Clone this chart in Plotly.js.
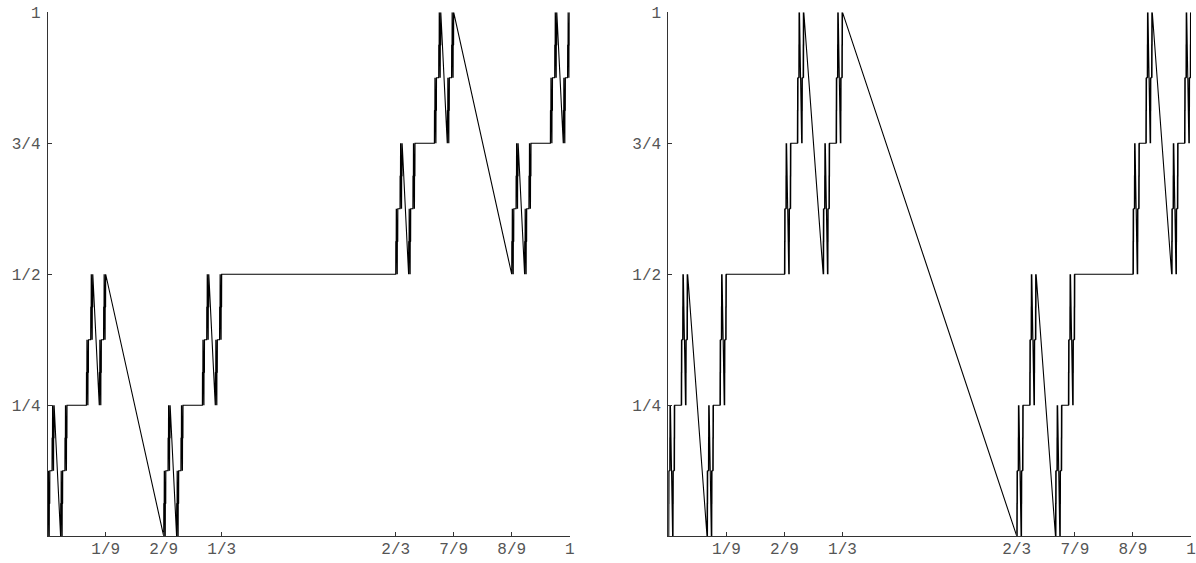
<!DOCTYPE html>
<html>
<head>
<meta charset="utf-8">
<script src="https://cdn.plot.ly/plotly-3.0.1.min.js"></script>
<style>
html,body{margin:0;padding:0;background:#fff;}
#chart{width:1196px;height:563px;}
</style>
</head>
<body>
<div id="chart"></div>
<script>
// Tick positions and labels (shared by both panels)
const xTickVals = [1/9, 2/9, 1/3, 2/3, 7/9, 8/9, 1];
const xTickLabels = ["1/9", "2/9", "1/3", "2/3", "7/9", "8/9", "1"];
const yTickVals = [0.25, 0.5, 0.75, 1];
const yTickLabels = ["1/4", "1/2", "3/4", "1"];

// Curve definition:
// "A" pieces: first third rises over the lower half, middle third is flat, last third rises over the upper half.
// "B" pieces: first third rises over the full range, middle third falls in a straight line, last third rises again.
const panelTypes = ["A", "B"];      // left panel starts with A, right panel with B
const curveStart = [0, 0];          // (x, y) where both curves begin
const curveEnd = [1, 1];            // (x, y) where both curves end
const recursionDepth = 8;

function buildCurve(type, x0, x1, y0, y1, d, xs, ys) {
  if (d === 0) { xs.push(x1); ys.push(y1); return; }
  const w = (x1 - x0) / 3;
  const other = type === "A" ? "B" : "A";
  if (type === "A") {
    const ym = (y0 + y1) / 2;
    buildCurve(other, x0, x0 + w, y0, ym, d - 1, xs, ys);
    xs.push(x0 + 2 * w); ys.push(ym);
    buildCurve(other, x0 + 2 * w, x1, ym, y1, d - 1, xs, ys);
  } else {
    buildCurve(other, x0, x0 + w, y0, y1, d - 1, xs, ys);
    xs.push(x0 + 2 * w); ys.push(y0);
    buildCurve(other, x0 + 2 * w, x1, y0, y1, d - 1, xs, ys);
  }
}

const W = 1196, H = 563;
const plotTop = 12.3, plotBottom = 536.2;
const panels = [[47.7, 569.7], [668.3, 1191]];

const traces = [];
const layout = {
  width: W, height: H,
  margin: {l: 0, r: 0, t: 0, b: 0},
  paper_bgcolor: "#fff", plot_bgcolor: "#fff",
  showlegend: false
};

const fontTick = {family: "Liberation Mono, Courier New, monospace", size: 16, color: "#555"};

panelTypes.forEach((t, i) => {
  const xs = [curveStart[0]], ys = [curveStart[1]];
  buildCurve(t, curveStart[0], curveEnd[0], curveStart[1], curveEnd[1], recursionDepth, xs, ys);
  const sfx = i === 0 ? "" : "2";
  traces.push({
    x: xs, y: ys, type: "scatter", mode: "lines",
    xaxis: "x" + sfx, yaxis: "y" + sfx,
    line: {color: "#000", width: 1.1, simplify: false},
    hoverinfo: "skip"
  });
  const common = {
    showgrid: false, zeroline: false, showline: true,
    linecolor: "#333", linewidth: 1,
    ticks: "inside", ticklen: 4, tickwidth: 1, tickcolor: "#333",
    tickfont: fontTick, tickmode: "array", fixedrange: true,
    ticklabeloverflow: "allow"
  };
  layout["xaxis" + sfx] = Object.assign({}, common, {
    domain: [panels[i][0] / W, panels[i][1] / W],
    range: [0, 1],
    anchor: "y" + sfx,
    tickvals: xTickVals, ticktext: xTickLabels,
    ticklabelstandoff: -2
  });
  layout["yaxis" + sfx] = Object.assign({}, common, {
    domain: [1 - plotBottom / H, 1 - plotTop / H],
    range: [0, 1],
    anchor: "x" + sfx,
    tickvals: yTickVals, ticktext: yTickLabels,
    ticklabelstandoff: 3
  });
});

Plotly.newPlot("chart", traces, layout, {staticPlot: true, displayModeBar: false});
</script>
</body>
</html>
